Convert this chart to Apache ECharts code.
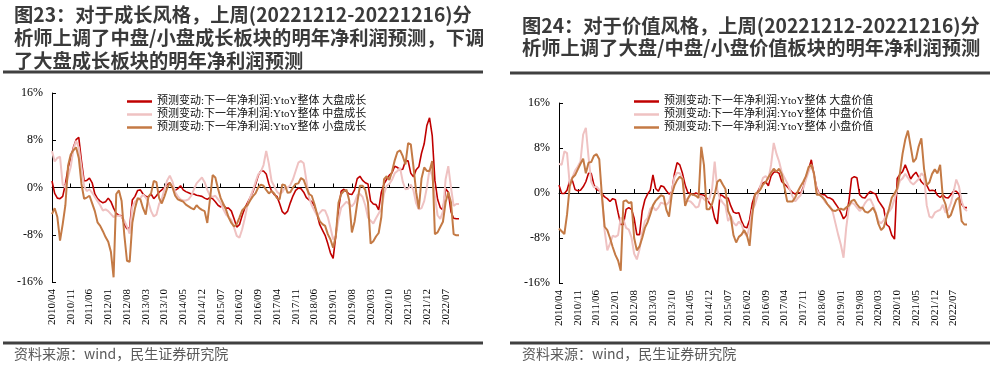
<!DOCTYPE html>
<html><head><meta charset="utf-8">
<script src="https://cdn.jsdelivr.net/npm/echarts@6/dist/echarts.min.js"></script>
<style>html,body{margin:0;padding:0;background:#fff}#c{width:1001px;height:368px}</style>
</head><body><div id="c"></div>
<script>
// Tick labels shown on the x axis (every 7 months)
const tickLabels = ['2010/04','2010/11','2011/06','2012/01','2012/08','2013/03','2013/10','2014/05','2014/12','2015/07','2016/02','2016/09','2017/04','2017/11','2018/06','2019/01','2019/08','2020/03','2020/10','2021/05','2021/12','2022/07'];
// Monthly categories 2010/04 .. 2022/12
const categories = [];
for (let y = 2010, m = 4; categories.length < 153; ) { categories.push(y + '/' + String(m).padStart(2,'0')); m++; if (m > 12) { m = 1; y++; } }

const yTicks = [-16,-8,0,8,16];

// Left chart: 成长风格 (%)
const growthLarge = [1.1,-1.0,-1.8,-1.9,-1.5,0.6,3.3,5.1,6.8,8.1,
8.5,4.5,1.1,1.2,1.6,0.8,-1.1,-1.9,-2.3,-2.6,
-2.4,-1.8,-2.4,-3.5,-4.4,-4.7,-4.8,-6.2,-7.0,-6.8,
-2.1,-1.5,-0.5,-0.4,-1.1,-1.5,-1.6,-1.1,-1.9,-1.4,
-0.8,-0.4,0,0.5,0.8,0,-0.5,-0.2,0.3,-0.4,
-0.7,-0.9,-1.1,-1.1,-1.3,-1.4,-1.5,-1.8,-2.0,-1.7,
-1.9,-2.4,-3.0,-3.3,-2.9,-3.5,-3.5,-4.0,-5.3,-6.7,
-6.3,-4.8,-3.5,-2.6,-1.7,-0.8,0.5,2.0,2.8,2.8,
2.3,0.6,-0.6,-1.2,-1.5,-2.7,-4.1,-4.5,-4.0,-2.6,
-1.4,-0.5,-0.1,-0.2,-0.8,-1.7,-2.1,-2.4,-3.1,-4.6,
-6.3,-7.2,-8.1,-9.5,-11.1,-12.0,-8.1,-3.8,-0.6,-0.3,
-0.7,-1.1,-1.2,-0.4,1.5,1.9,1.2,0.8,0.6,-2.3,
-2.8,-2.9,-3.8,-0.8,0.6,1.4,2.1,2.5,3.6,3.4,
3.0,3.1,4.5,4.5,2.4,1.8,3.0,3.5,5.8,7.4,
10.5,11.8,8.8,1.2,-2.0,-3.4,-3.8,-0.2,-0.8,-4.1,
-5.2,-5.3,-5.3];
const growthMid = [6.2,4.4,5.0,5.2,0.5,0,1.8,3.5,6.5,7.9,
6.8,3.4,0.2,-0.6,-0.3,-0.9,-1.6,-2.3,-3.0,-3.9,
-3.7,-4.0,-4.5,-5.0,-4.8,-4.8,-4.9,-5.6,-6.6,-7.8,
-3.3,-2.4,-2.1,-1.8,-1.2,-1.7,-2.5,-4.0,-4.9,-4.6,
-2.8,-1.9,-0.3,1.2,2.0,1.0,-0.8,-1.5,-2.0,-2.2,
-2.2,-2.0,-1.4,-0.3,0.7,1.2,1.7,0.9,-0.4,-1.4,
-1.6,-1.4,-2.0,-2.6,-3.7,-4.6,-5.0,-5.5,-6.8,-8.2,
-8.5,-7.1,-5.2,-3.0,-1.7,-0.5,0.9,2.2,2.7,3.8,
6.2,4.0,1.1,0.2,-0.7,-1.1,-0.8,0,0,0.4,
1.4,2.8,4.2,4.5,4.1,1.2,-1.7,-3.0,-3.9,-4.8,
-4.3,-3.8,-3.9,-5.0,-6.8,-8.8,-8.1,-5.4,-3.4,-2.9,
-2.4,-2.8,-3.2,-2.6,-1.3,-1.1,-1.6,-3.0,-5.1,-5.6,
-6.1,-5.2,-4.4,-3.6,-1.1,0.3,0.6,1.3,2.4,2.8,
3.3,1.0,-0.3,-0.2,0.5,-0.5,-2.7,-3.7,-3.5,-2.3,
0,3.1,2.0,-1.5,-4.7,-5.3,-4.1,1.4,3.6,0,
-3.1,-2.8,-2.8];
const growthSmall = [-4.5,-3.5,-5.0,-9.0,-6.2,-3.0,3.7,5.6,6.3,6.8,
5.0,0.6,-1.9,-1.7,-1.4,-2.7,-4.0,-5.9,-6.5,-7.4,
-8.4,-9.2,-10.9,-15.2,-1.1,-0.5,-2.3,-8.0,-12.4,-12.6,
-6.0,-3.5,-1.8,-2.0,-3.5,-4.6,-1.6,-1.0,1.1,0.9,
-1.8,-2.7,-1.5,-0.1,0.8,0,-1.4,-2.0,-2.2,-2.4,
-2.9,-3.2,-3.5,-3.7,-3.0,-3.5,-3.8,-4.0,-6.0,-2.0,
2.1,1.7,-0.2,-1.8,-2.8,-3.8,-5.1,-6.0,-6.6,-6.2,
-5.1,-3.9,-3.4,-3.0,-2.2,-1.5,-1.0,0,0.5,0.3,
-0.4,-1.0,-0.6,-1.0,-1.8,-2.0,0.5,0.4,-0.9,-0.8,
0,0.6,0.7,1.6,1.3,0,-1.1,-1.4,-2.8,-4.5,
-5.7,-6.2,-6.5,-7.9,-8.8,-10.2,-8.2,-2.6,-1.1,-0.6,
-0.4,-2.2,-7.6,-5.8,-2.6,0.3,0.3,-0.4,-2.5,-9.5,
-9.1,-8.3,-7.7,-5.0,1.4,1.9,1.3,2.7,4.6,6.0,
6.3,5.3,3.9,7.5,7.3,3.5,-0.8,-3.6,1.5,3.4,
2.8,2.8,4.5,-7.9,-7.6,-6.7,-5.8,-2.5,-0.8,-2.5,
-7.9,-8.1,-8.1];

// Right chart: 价值风格 (%)
const valueLarge = [1.4,-0.1,-0.1,0.5,2.2,2.2,0.6,0.4,0.5,1.1,
2.0,3.5,3.5,1.5,0.6,0.4,-0.1,-0.7,-1.0,-1.5,
-1.0,-1.2,-3.5,-5.6,-5.6,-2.9,-2.6,-2.9,-4.5,-7.4,
-7.4,-3.2,-1.2,-0.2,0.5,3.2,0.8,0.3,1.3,1.1,
0.4,-0.2,0.2,3.4,5.4,5.0,3.5,1.4,0.1,-0.1,
-0.3,0,-0.2,-0.3,-0.4,-0.9,-1.8,-2.4,-4.5,-5.5,
-0.3,-0.5,-0.9,-0.9,-2.3,-3.4,-3.6,-3.5,-5.0,-6.0,
-6.2,-4.8,-1.8,-0.3,0.2,1.2,1.8,2.0,1.3,3.0,
3.7,3.8,3.5,2.0,1.6,1.1,0.6,0.1,-0.2,0.2,
-0.1,1.0,2.9,4.2,5.9,3.3,0.9,-0.2,-0.3,-0.3,
-0.8,-0.9,-1.2,-1.9,-2.6,-3.5,-4.6,-4.0,-1.5,2.6,
2.9,2.7,-0.3,-0.8,-0.9,-0.2,0.3,0,-0.2,-1.4,
-2.1,-2.8,-5.6,-6.0,-7.5,-8.2,2.6,3.3,3.8,5.0,
3.8,2.5,3.2,3.7,2.8,2.0,1.5,1.4,0.4,0.5,
0.4,-0.4,-0.8,-0.3,-0.8,-0.9,-0.3,0.3,0.3,-0.2,
-2.0,-2.6,-2.6];
const valueMid = [5.2,5.0,7.4,7.1,1.5,2.8,4.0,4.7,5.6,10.4,
11.6,6.4,2.0,1.0,1.1,0.6,-0.5,-6.7,-10.2,-9.0,
-7.6,-7.8,-7.5,-4.4,-4.7,-6.2,-6.5,-7.9,-10.8,-11.8,
-10.0,-7.0,-5.0,-4.5,-2.8,-2.4,-3.1,-2.6,-1.7,-1.9,
-2.1,-1.6,0.3,2.8,3.6,3.5,2.6,-1.0,-1.4,-1.5,
-2.0,-2.6,-2.4,-0.5,-1.1,-1.5,-1.0,0.6,5.6,0.5,
-1.0,-1.7,-2.3,-5.0,-4.1,-5.3,-5.8,-5.1,-5.6,-7.0,
-7.7,-6.0,-3.0,-2.1,-0.5,1.2,2.7,3.0,2.4,5.0,
8.9,7.0,5.6,3.7,2.7,1.8,0.6,-0.6,-1.5,-0.9,
-0.4,0.8,2.4,3.8,5.0,3.2,0.6,-0.3,-0.5,-1.5,
-2.0,-2.4,-3.4,-5.4,-7.4,-9.2,-11.5,-6.2,-2.5,-1.7,
-2.0,-2.6,-3.2,-2.7,-1.8,-1.2,-1.1,-2.1,-3.5,-5.0,
-5.4,-4.8,-3.8,-3.3,-2.6,-1.0,0.5,2.2,2.6,3.4,
2.7,1.9,1.5,2.0,2.5,3.5,3.0,-2.2,-4.2,-4.4,
-3.5,-3.2,-3.0,-2.1,-3.5,-3.0,-1.8,0.2,2.4,1.2,
-1.5,-2.8,-3.2];
const valueSmall = [-6.3,-6.8,-7.3,-3.8,1.2,2.7,3.2,4.2,5.2,6.1,
3.5,5.4,5.5,6.6,6.9,6.0,-0.5,-6.0,-6.6,-8.0,
-9.6,-11.0,-12.0,-13.8,-1.5,-1.3,-1.8,-1.6,-8.0,-10.2,
-9.5,-8.0,-6.2,-5.2,-3.8,-2.2,-1.4,-0.9,-0.4,-0.6,
-3.0,-4.2,-0.3,1.3,2.3,2.9,2.5,-2.3,-1.0,-0.2,
-0.3,-0.5,-0.9,8.2,5.0,-2.9,-2.9,-2.0,-0.3,2.0,
2.4,1.5,0.7,-3.2,-4.3,-7.5,-8.8,-7.8,-7.4,-6.6,
-7.5,-9.4,-4.0,-0.2,0.1,0.6,1.5,1.9,2.8,3.6,
4.3,3.8,4.3,3.3,1.0,-1.5,-1.5,-1.5,-0.8,0.3,
1.2,2.0,3.0,4.6,5.0,3.5,-0.3,-0.3,-0.7,-1.2,
-2.0,-2.6,-3.1,-3.2,-2.9,-2.8,-3.0,-2.6,-2.2,-1.4,
-1.2,-2.0,-2.6,-2.6,-3.3,-3.5,-3.1,-2.6,-3.6,-5.5,
-6.6,-6.1,-4.4,-2.7,-0.8,-0.1,0.8,3.5,7.0,9.5,
11.1,8.3,5.5,6.1,8.3,9.7,4.3,1.4,1.9,3.4,
4.2,3.5,5.0,-0.8,-2.0,-4.4,-3.9,-2.5,-1.2,-0.8,
-5.0,-5.6,-5.6];

const namesL = ['预测变动:下一年净利润:YtoY整体 大盘成长','预测变动:下一年净利润:YtoY整体 中盘成长','预测变动:下一年净利润:YtoY整体 小盘成长'];
const namesR = ['预测变动:下一年净利润:YtoY整体 大盘价值','预测变动:下一年净利润:YtoY整体 中盘价值','预测变动:下一年净利润:YtoY整体 小盘价值'];
const colors = ['#C00000','#EFC2C2','#C47A45'];
const widths = [1.6,2,2];

const chart = echarts.init(document.getElementById('c'), null, {renderer:'canvas'});
const serif = "'Liberation Serif','Times New Roman',serif";
const mixed = "'Liberation Serif','Noto Sans CJK SC',serif";
const isTick = (i) => tickLabels.indexOf(categories[i]) >= 0;

function xAxes(g){
  return [
    {type:'category', gridIndex:g, data:categories, boundaryGap:false,
     axisLine:{onZero:true, lineStyle:{color:'#000', width:1}},
     axisTick:{inside:true, length:4, interval:(i)=>isTick(i), lineStyle:{color:'#000'}},
     axisLabel:{show:false}, splitLine:{show:false}},
    {type:'category', gridIndex:g, data:categories, boundaryGap:false, position:'bottom',
     axisLine:{show:false, onZero:false}, axisTick:{show:false},
     axisLabel:{rotate:90, interval:(i)=>isTick(i), fontSize:11, fontFamily:serif, color:'#000', margin:7},
     splitLine:{show:false}}
  ];
}
function yAxis(g){
  return {type:'value', gridIndex:g, min:yTicks[0], max:yTicks[yTicks.length-1], interval:8,
    axisLine:{show:true, lineStyle:{color:'#000', width:1}},
    axisTick:{show:true, inside:true, length:4, lineStyle:{color:'#000'}},
    axisLabel:{formatter:'{value}%', fontSize:12, fontFamily:serif, color:'#000', margin:9},
    splitLine:{show:false}};
}
function mk(name, data, k, g){
  return {name:name, type:'line', data:data, xAxisIndex:g*2, yAxisIndex:g,
    showSymbol:false, symbol:'none', color:colors[k],
    lineStyle:{color:colors[k], width:widths[k]}, z:2+k, animation:false};
}
const legendCommon = {orient:'vertical', itemWidth:25, itemHeight:2.5, itemGap:0, icon:'rect',
  textStyle:{fontSize:11, fontFamily:mixed, color:'#111', lineHeight:13}, padding:0};
const titleStyle = {fontSize:19.3, fontWeight:'bold', color:'#3a3a3a', fontFamily:"'Noto Sans CJK SC'"};
const srcStyle = {fontSize:14, fontWeight:'normal', color:'#595959', fontFamily:"'Noto Sans CJK SC'"};

chart.setOption({
  animation:false,
  title:[
    {text:'图23：对于成长风格，上周(20221212-20221216)分\n析师上调了中盘/小盘成长板块的明年净利润预测，下调\n了大盘成长板块的明年净利润预测',
     left:14, top:3, padding:0, textStyle:Object.assign({lineHeight:23}, titleStyle)},
    {text:'图24：对于价值风格，上周(20221212-20221216)分\n析师上调了大盘/中盘/小盘价值板块的明年净利润预测',
     left:522, top:15, padding:0, textStyle:Object.assign({lineHeight:22}, titleStyle)},
    {text:'资料来源：wind，民生证券研究院', left:14, top:347, padding:0, textStyle:srcStyle},
    {text:'资料来源：wind，民生证券研究院', left:522, top:347, padding:0, textStyle:srcStyle}
  ],
  legend:[
    Object.assign({left:127, top:95, data:namesL}, legendCommon),
    Object.assign({left:634, top:95, data:namesR}, legendCommon)
  ],
  grid:[
    {left:52, right:542, top:93, bottom:86},
    {left:559, right:34, top:103, bottom:85}
  ],
  xAxis: xAxes(0).concat(xAxes(1)),
  yAxis:[yAxis(0), yAxis(1)],
  series:[
    mk(namesL[0], growthLarge, 0, 0), mk(namesL[1], growthMid, 1, 0), mk(namesL[2], growthSmall, 2, 0),
    mk(namesR[0], valueLarge, 0, 1), mk(namesR[1], valueMid, 1, 1), mk(namesR[2], valueSmall, 2, 1)
  ],
  graphic:[
    {type:'line', shape:{x1:3, y1:72, x2:483, y2:72}, style:{stroke:'#404040', lineWidth:3}},
    {type:'line', shape:{x1:510, y1:73, x2:990, y2:73}, style:{stroke:'#404040', lineWidth:3}},
    {type:'line', shape:{x1:3, y1:343, x2:483, y2:343}, style:{stroke:'#404040', lineWidth:3}},
    {type:'line', shape:{x1:510, y1:343, x2:990, y2:343}, style:{stroke:'#404040', lineWidth:3}}
  ]
});
</script></body></html>
